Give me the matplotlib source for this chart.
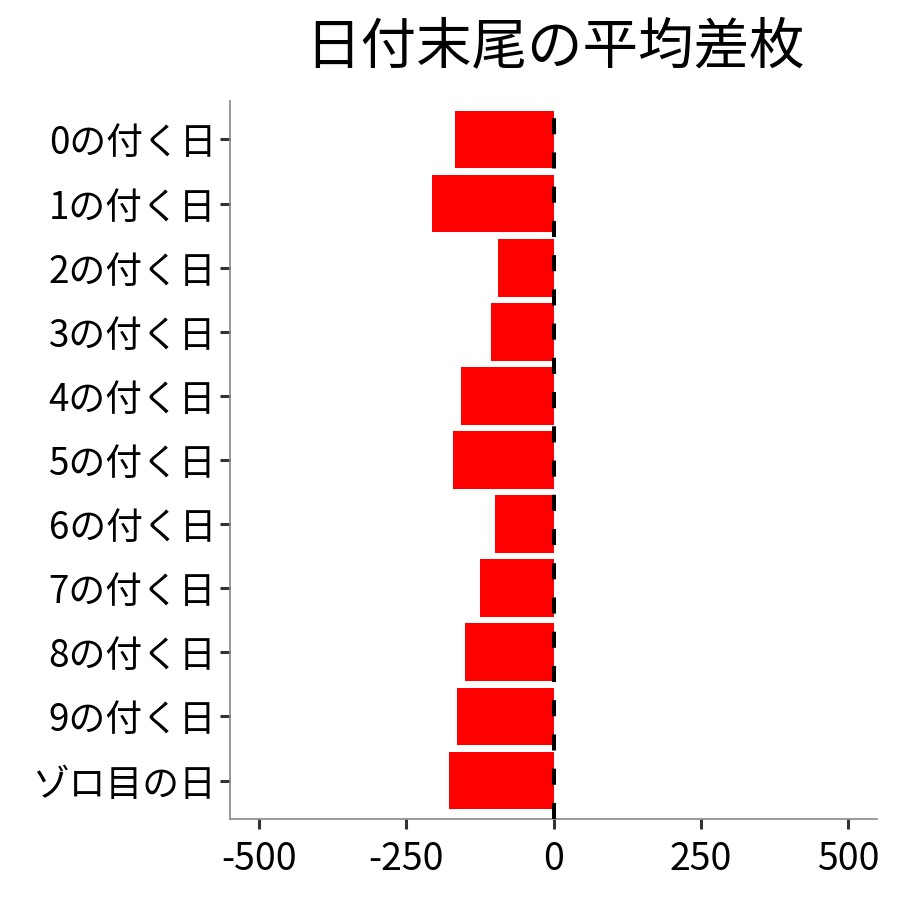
import matplotlib
matplotlib.use("Agg")
import matplotlib.pyplot as plt
import numpy as np

plt.rcParams['font.family'] = ['Noto Sans CJK JP', 'DejaVu Sans']

labels = ['0の付く日', '1の付く日', '2の付く日', '3の付く日', '4の付く日',
          '5の付く日', '6の付く日', '7の付く日', '8の付く日', '9の付く日', 'ゾロ目の日']
values = [-167, -207, -94, -106, -157, -170, -99, -124, -150, -163, -178]
xticks = [-500, -250, 0, 250, 500]

fig = plt.figure(figsize=(9, 9), dpi=100)
ax = fig.add_axes([230 / 900, 1 - 819 / 900, (877 - 230) / 900, (819 - 101) / 900])

y = np.arange(len(labels))
ax.barh(y, values, height=0.9, color='#ff0000', zorder=2)
ax.axvline(0, color='black', linewidth=2.9, linestyle=(0, (4, 4.5)), zorder=3)

ax.set_xlim(-549, 549)
ax.set_ylim(len(labels) - 0.4, -0.6)
ax.set_yticks(y)
ax.set_yticklabels(labels, fontsize=26.5)
ax.set_xticks(xticks)
ax.set_xticklabels([str(v) for v in xticks], fontsize=27)

for s in ['top', 'right']:
    ax.spines[s].set_visible(False)
for s in ['left', 'bottom']:
    ax.spines[s].set_color('#888888')
    ax.spines[s].set_linewidth(1.2)
ax.tick_params(axis='both', length=7, width=2.2, color='#333333', labelcolor='black')
ax.tick_params(axis='x', pad=8)
ax.tick_params(axis='y', pad=3)

fig.text(555 / 900, 1 - 47 / 900, '日付末尾の平均差枚', fontsize=40, ha='center', va='center')

fig.savefig('out.png', dpi=100)
